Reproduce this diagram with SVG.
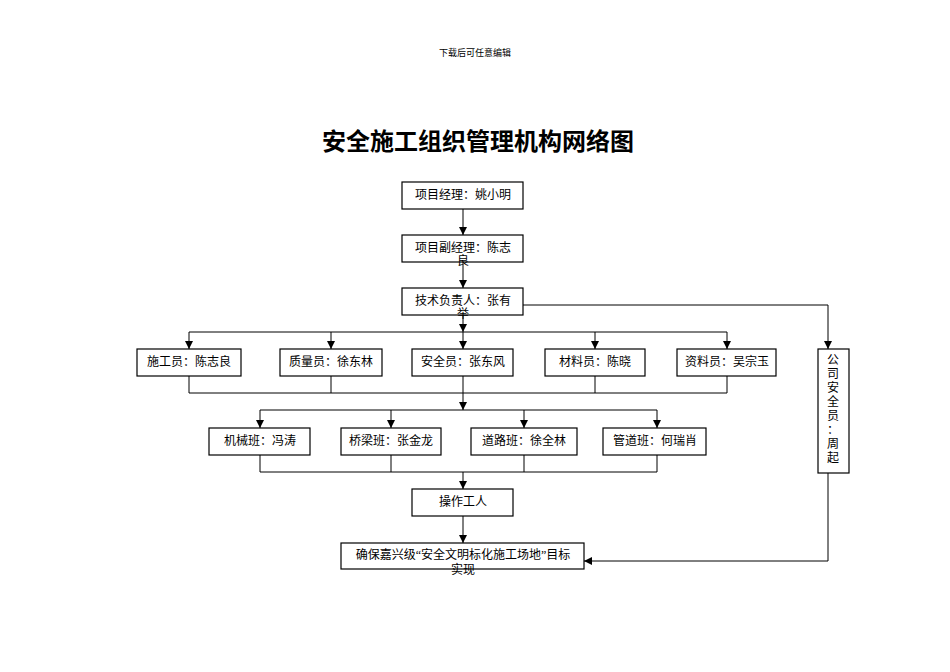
<svg xmlns="http://www.w3.org/2000/svg" width="950" height="672" viewBox="0 0 950 672">
<style>
text{font-family:"Liberation Serif","Noto Sans CJK SC",serif;font-size:12px;fill:#000;text-anchor:middle}
.b{fill:#fff;stroke:#000;stroke-width:1.2}
.c{fill:none;stroke:#000;stroke-width:1}
</style>
<defs><marker id="a" viewBox="0 0 10 10" refX="10" refY="5" markerWidth="8" markerHeight="8" orient="auto" markerUnits="userSpaceOnUse"><path d="M0,0L10,5L0,10z"/></marker></defs>
<rect width="950" height="672" fill="#fff"/>
<text x="475" y="56" style="font-size:9px">下载后可任意编辑</text>
<text x="478" y="150" style="font-size:24px;font-weight:bold;font-family:'Noto Sans CJK SC',sans-serif">安全施工组织管理机构网络图</text>
<g id="connectors" class="c">
<path d="M463,209V235" marker-end="url(#a)"/>
<path d="M463,262V288" marker-end="url(#a)"/>
<path d="M463,315V332" marker-end="url(#a)"/>
<path d="M189,332H727"/>
<path d="M189,332V349" marker-end="url(#a)"/>
<path d="M331,332V349" marker-end="url(#a)"/>
<path d="M463,332V349" marker-end="url(#a)"/>
<path d="M595,332V349" marker-end="url(#a)"/>
<path d="M727,332V349" marker-end="url(#a)"/>
<path d="M189,376V393H727V376M331,376V393M595,376V393"/>
<path d="M463,376V410" marker-end="url(#a)"/>
<path d="M260,410H657"/>
<path d="M260,410V428" marker-end="url(#a)"/>
<path d="M391,410V428" marker-end="url(#a)"/>
<path d="M524,410V428" marker-end="url(#a)"/>
<path d="M657,410V428" marker-end="url(#a)"/>
<path d="M260,455V472H657V455M391,455V472M524,455V472"/>
<path d="M463,472V489" marker-end="url(#a)"/>
<path d="M463,516V543" marker-end="url(#a)"/>
<path d="M523,305H828V349" marker-end="url(#a)"/>
<path d="M828,473V561H584" marker-end="url(#a)"/>
</g>
<g id="pm"><rect class="b" x="402" y="182" width="121" height="27"/><text x="463" y="199">项目经理：姚小明</text></g>
<g id="dpm"><rect class="b" x="402" y="235" width="121" height="27"/><text x="463" y="252">项目副经理：陈志</text><text x="463" y="265">良</text></g>
<g id="tech"><rect class="b" x="402" y="288" width="121" height="27"/><text x="463" y="305">技术负责人：张有</text><text x="463" y="318">举</text></g>
<g id="n1"><rect class="b" x="137" y="349" width="104" height="27"/><text x="189" y="366">施工员：陈志良</text></g>
<g id="n2"><rect class="b" x="280" y="349" width="102" height="27"/><text x="331" y="366">质量员：徐东林</text></g>
<g id="n3"><rect class="b" x="412" y="349" width="101" height="27"/><text x="463" y="366">安全员：张东风</text></g>
<g id="n4"><rect class="b" x="545" y="349" width="100" height="27"/><text x="595" y="366">材料员：陈晓</text></g>
<g id="n5"><rect class="b" x="677" y="349" width="99" height="27"/><text x="727" y="366">资料员：吴宗玉</text></g>
<g id="m1"><rect class="b" x="209" y="428" width="101" height="27"/><text x="260" y="445">机械班：冯涛</text></g>
<g id="m2"><rect class="b" x="341" y="428" width="100" height="27"/><text x="391" y="445">桥梁班：张金龙</text></g>
<g id="m3"><rect class="b" x="471" y="428" width="106" height="27"/><text x="524" y="445">道路班：徐全林</text></g>
<g id="m4"><rect class="b" x="603" y="428" width="103" height="27"/><text x="655" y="445">管道班：何瑞肖</text></g>
<g id="worker"><rect class="b" x="412" y="489" width="101" height="27"/><text x="463" y="506">操作工人</text></g>
<g id="goal"><rect class="b" x="341" y="543" width="243" height="26"/><text x="463" y="559">确保嘉兴级“安全文明标化施工场地”目标</text><text x="463" y="574">实现</text></g>
<g id="company"><rect class="b" x="818" y="349" width="31" height="124"/>
<text x="833" y="364">公</text><text x="833" y="378">司</text><text x="833" y="392">安</text><text x="833" y="406">全</text><text x="833" y="420">员</text><text x="833" y="434">：</text><text x="833" y="448">周</text><text x="833" y="462">起</text><text x="833" y="476" style="visibility:hidden">成</text></g>
</svg>
